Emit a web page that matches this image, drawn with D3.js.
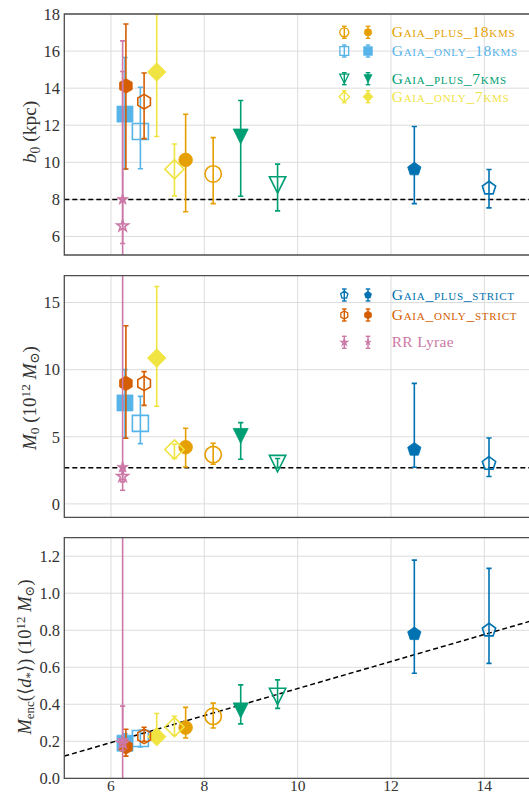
<!DOCTYPE html>
<html>
<head>
<meta charset="utf-8">
<script src="https://cdn.jsdelivr.net/npm/d3@7"></script>
<style>
  body { margin: 0; background: #fff; }
  svg { display: block; font-family: "Liberation Serif", "DejaVu Serif", serif; }
</style>
</head>
<body>
<svg id="chart" width="529" height="795"></svg>
<script>
// series (legend order)
const seriesNames = ["Gaia_plus_18kms", "Gaia_only_18kms", "Gaia_plus_7kms", "Gaia_only_7kms",
                     "Gaia_plus_strict", "Gaia_only_strict", "RR Lyrae"];
const seriesColors = ["#E69F00", "#56B4E9", "#009E73", "#F0E442", "#0072B2", "#D55E00", "#CC79A7"];
const seriesShapes = ["circle", "square", "tridown", "diamond", "pentagon", "hexagon", "star"];

// one hollow + one filled point per series
const pointSeries = [0, 0, 1, 1, 2, 2, 3, 3, 4, 4, 5, 5, 6, 6];
const pointFilled = [0, 1, 0, 1, 0, 1, 0, 1, 0, 1, 0, 1, 0, 1];
const pointX      = [8.19, 7.60, 6.63, 6.30, 9.57, 8.78, 7.36, 6.98, 14.10, 12.50, 6.71, 6.32, 6.25, 6.25];

// b0 (kpc)
const b0Val = [9.37, 10.13, 11.66, 12.60, 8.78, 11.39, 9.63, 14.87, 8.60, 9.63, 13.27, 14.12, 6.57, 8.00];
const b0Lo  = [7.77, 7.33, 9.65, 9.63, 7.38, 8.17, 8.19, 11.39, 7.54, 7.77, 11.28, 9.64, 5.62, 2.00];
const b0Hi  = [11.33, 12.59, 14.05, 15.65, 9.90, 13.33, 10.99, 20.0, 9.61, 11.93, 14.82, 17.46, 14.90, 16.55];

// M0 (10^12 Msun)
const m0Val = [3.67, 4.22, 6.00, 7.52, 3.00, 5.06, 4.05, 10.86, 3.00, 4.05, 8.98, 8.98, 2.05, 2.73];
const m0Lo  = [2.95, 2.75, 4.49, 4.94, 2.70, 3.33, 3.38, 7.27, 2.04, 2.73, 7.34, 4.89, 1.02, 1.64];
const m0Hi  = [4.52, 5.63, 8.01, 10.00, 3.38, 6.05, 4.44, 16.20, 4.91, 8.98, 9.85, 13.27, 2.45, 40.0];

// Menc(<d*>) (10^12 Msun)
const mencVal = [0.335, 0.274, 0.215, 0.190, 0.442, 0.367, 0.277, 0.225, 0.800, 0.780, 0.227, 0.170, 0.190, 0.205];
const mencLo  = [0.272, 0.218, 0.170, 0.150, 0.378, 0.294, 0.233, 0.200, 0.621, 0.568, 0.200, 0.120, 0.150, -0.5];
const mencHi  = [0.406, 0.383, 0.260, 0.240, 0.532, 0.505, 0.335, 0.350, 1.134, 1.179, 0.276, 0.265, 0.390, 2.0];

// reference lines
const b0Ref = 8;
const m0Ref = 2.7;
const mencLineX = [5, 15];
const mencLineY = [0.12, 0.85];

const xTicks = [6, 8, 10, 12, 14];
const b0Ticks = [6, 8, 10, 12, 14, 16, 18];
const m0Ticks = [0, 5, 10, 15];
const mencTicks = [0, 0.2, 0.4, 0.6, 0.8, 1.0, 1.2];

const svg = d3.select("#chart");
const x = d3.scaleLinear().domain([5, 15]).range([64.3, 531]);

// regular polygon path
function poly(n, r, rot) {
  const pts = d3.range(n).map(i => {
    const a = rot + i * 2 * Math.PI / n;
    return [r * Math.sin(a), -r * Math.cos(a)];
  });
  return "M" + pts.map(p => p.join(",")).join("L") + "Z";
}
function starPath(r) {
  const pts = d3.range(10).map(i => {
    const rr = i % 2 ? r * 0.382 : r;
    const a = i * Math.PI / 5;
    return [rr * Math.sin(a), -rr * Math.cos(a)];
  });
  return "M" + pts.map(p => p.join(",")).join("L") + "Z";
}
function markerPath(shape, filled, k) {
  switch (shape) {
    case "circle": { const r = (filled ? 6.8 : 8.2) * k;
      return `M${-r},0A${r},${r} 0 1,0 ${r},0A${r},${r} 0 1,0 ${-r},0Z`; }
    case "square": return poly(4, 8 * Math.SQRT2 * k, Math.PI / 4);
    case "diamond": return poly(4, (filled ? 9.3 : 9.6) * k, 0);
    case "tridown": { const s = (filled ? 7.5 : 8.2) * k;
      return `M0,${s}L${-s},${-s}L${s},${-s}Z`; }
    case "pentagon": return poly(5, 7 * k, 0);
    case "hexagon": return poly(6, 7.3 * k, 0);
    case "star": return starPath(6 * k);
  }
}

function panel(id, top, bottom, domain, ticks, fmt) {
  const y = d3.scaleLinear().domain(domain).range([bottom, top]);
  const g = svg.append("g");
  svg.append("clipPath").attr("id", "clip" + id).append("rect")
    .attr("x", x(5)).attr("y", top).attr("width", x(15) - x(5)).attr("height", bottom - top);

  // grid
  g.selectAll(".gx").data(xTicks).enter().append("line")
    .attr("x1", d => x(d)).attr("x2", d => x(d)).attr("y1", top).attr("y2", bottom)
    .attr("stroke", "#dcdcdc").attr("stroke-width", 1);
  g.selectAll(".gy").data(ticks).enter().append("line")
    .attr("x1", x(5)).attr("x2", x(15)).attr("y1", d => y(d)).attr("y2", d => y(d))
    .attr("stroke", "#dcdcdc").attr("stroke-width", 1);

  // y tick labels
  g.selectAll(".ty").data(ticks).enter().append("text")
    .attr("x", 60).attr("y", d => y(d)).attr("dy", "0.35em")
    .attr("text-anchor", "end").attr("font-size", 16.5).attr("fill", "#333")
    .text(fmt);

  const body = g.append("g").attr("clip-path", `url(#clip${id})`);
  return { y, body, g };
}

function drawPoints(p, vals, los, his) {
  const idx = d3.range(pointX.length).sort((a, b) => pointSeries[a] - pointSeries[b]);
  idx.forEach(i => {
    const c = seriesColors[pointSeries[i]];
    const cx = x(pointX[i]);
    const eg = p.body.append("g").attr("stroke", c).attr("stroke-width", 1.6);
    eg.append("line").attr("x1", cx).attr("x2", cx).attr("y1", p.y(los[i])).attr("y2", p.y(his[i]));
    [los[i], his[i]].forEach(v => eg.append("line")
      .attr("x1", cx - 2.6).attr("x2", cx + 2.6).attr("y1", p.y(v)).attr("y2", p.y(v)));
    p.body.append("path")
      .attr("d", markerPath(seriesShapes[pointSeries[i]], pointFilled[i], 1))
      .attr("transform", `translate(${cx},${p.y(vals[i])})`)
      .attr("fill", pointFilled[i] ? c : "none")
      .attr("stroke", c).attr("stroke-width", pointFilled[i] ? 0.8 : 1.6);
  });
}

function frame(top, bottom) {
  svg.append("path")
    .attr("d", `M${x(15)},${top}H${x(5)}V${bottom}H${x(15)}`)
    .attr("fill", "none").attr("stroke", "#4d4d4d").attr("stroke-width", 1.3);
}

function ylabel(cx, cy, size, parts) {
  const t = svg.append("text")
    .attr("transform", `translate(${cx},${cy}) rotate(-90)`)
    .attr("text-anchor", "middle").attr("font-size", size).attr("fill", "#333");
  parts.forEach(([s, style]) => {
    const ts = t.append("tspan").text(s);
    if (style && style.includes("i")) ts.attr("font-style", "italic");
    if (style && style.includes("_")) ts.attr("baseline-shift", "-25%").attr("font-size", size * 0.7);
    if (style && style.includes("^")) ts.attr("baseline-shift", "45%").attr("font-size", size * 0.7);
  });
}

function legend(entries, rowsY) {
  entries.forEach((s, j) => {
    const c = seriesColors[s];
    const yy = rowsY[j];
    [0, 1].forEach(f => {
      const cx = f ? 368 : 344.3;
      const eg = svg.append("g").attr("stroke", c).attr("stroke-width", 1.4);
      eg.append("line").attr("x1", cx).attr("x2", cx).attr("y1", yy - 6).attr("y2", yy + 6);
      [yy - 6, yy + 6].forEach(v => eg.append("line").attr("x1", cx - 2.3).attr("x2", cx + 2.3).attr("y1", v).attr("y2", v));
      svg.append("path").attr("d", markerPath(seriesShapes[s], f, 0.55))
        .attr("transform", `translate(${cx},${yy})`)
        .attr("fill", f ? c : "none").attr("stroke", c).attr("stroke-width", f ? 0.6 : 1.3);
    });
    svg.append("text").attr("x", 391.7).attr("y", yy + 5)
      .attr("font-size", 15.5).attr("fill", c)
      .attr("font-variant", s === 6 ? "normal" : "small-caps")
      .attr("letter-spacing", s === 6 ? 0.3 : 0.75)
      .text(seriesNames[s]);
  });
}

// panel 1: b0
const p1 = panel(1, 14, 255, [5, 18], b0Ticks, d => d);
p1.body.append("line").attr("x1", x(5)).attr("x2", x(15)).attr("y1", p1.y(b0Ref)).attr("y2", p1.y(b0Ref))
  .attr("stroke", "#000").attr("stroke-width", 1.5).attr("stroke-dasharray", "5,3");
drawPoints(p1, b0Val, b0Lo, b0Hi);
frame(14, 255);
ylabel(36, 132, 19.5, [["b", "i"], ["0", "_"], [" (kpc)"]]);
legend([0, 1, 2, 3], [32.3, 51, 78.7, 96.7]);

// panel 2: M0
const p2 = panel(2, 275.7, 517.3, [-1, 17], m0Ticks, d => d);
p2.body.append("line").attr("x1", x(5)).attr("x2", x(15)).attr("y1", p2.y(m0Ref)).attr("y2", p2.y(m0Ref))
  .attr("stroke", "#000").attr("stroke-width", 1.5).attr("stroke-dasharray", "5,3");
drawPoints(p2, m0Val, m0Lo, m0Hi);
frame(275.7, 517.3);
ylabel(36, 398, 19, [["M", "i"], ["0", "_"], [" (10"], ["12", "^"], [" "], ["M", "i"], ["⊙", "_"], [")"]]);
legend([4, 5, 6], [295, 315, 342.3]);

// panel 3: Menc
const p3 = panel(3, 537.7, 778.3, [0, 1.3], mencTicks, d3.format(".1f"));
p3.body.append("line")
  .attr("x1", x(mencLineX[0])).attr("x2", x(mencLineX[1]))
  .attr("y1", p3.y(mencLineY[0])).attr("y2", p3.y(mencLineY[1]))
  .attr("stroke", "#000").attr("stroke-width", 1.5).attr("stroke-dasharray", "5,3");
drawPoints(p3, mencVal, mencLo, mencHi);
frame(537.7, 778.3);
ylabel(31, 657, 18.5, [["M", "i"], ["enc", "_"], ["(⟨"], ["d", "i"], ["*", "_"], ["⟩) (10"], ["12", "^"], [" "], ["M", "i"], ["⊙", "_"], [")"]]);

// x tick labels (bottom panel only)
svg.selectAll(".tx").data(xTicks).enter().append("text")
  .attr("x", d => x(d)).attr("y", 791)
  .attr("text-anchor", "middle").attr("font-size", 15.5).attr("fill", "#333")
  .text(d => d);
</script>
</body>
</html>
